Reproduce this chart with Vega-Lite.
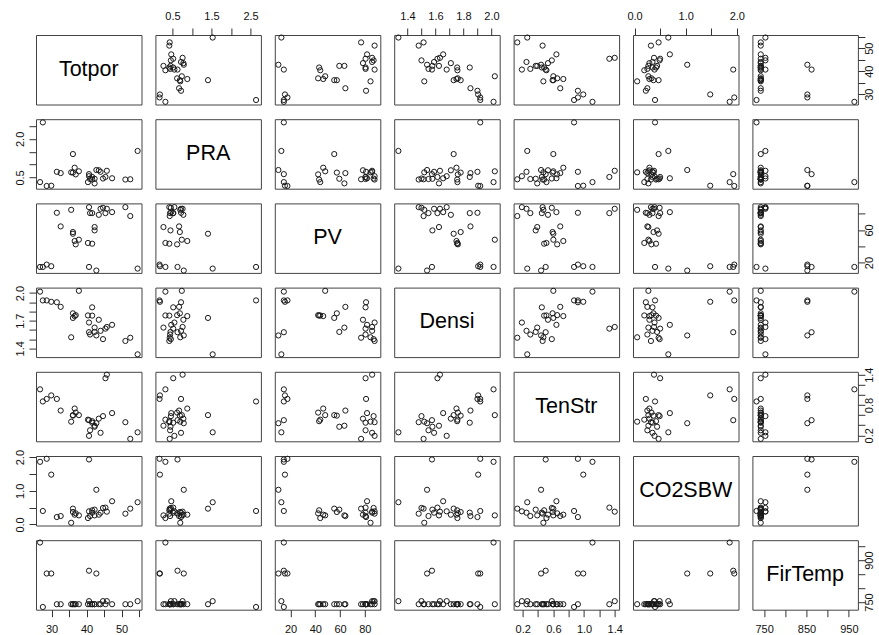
{
"$schema":"https://vega.github.io/schema/vega-lite/v6.json",
"padding":{"left":13,"top":10,"right":5,"bottom":0},
"background":"white",
"datasets":{"d":[
{"Totpor":26.7,"PRA":0.32,"PV":14.6,"Densi":2.015,"TenStr":1.11,"CO2SBW":1.86,"FirTemp":963},
{"Totpor":27.5,"PRA":2.64,"PV":14.6,"Densi":1.92,"TenStr":0.87,"CO2SBW":0.40,"FirTemp":732},
{"Totpor":28.6,"PRA":0.17,"PV":17.5,"Densi":1.92,"TenStr":0.92,"CO2SBW":1.95,"FirTemp":852},
{"Totpor":29.9,"PRA":0.18,"PV":15.5,"Densi":1.905,"TenStr":0.99,"CO2SBW":1.48,"FirTemp":852},
{"Totpor":31.5,"PRA":0.72,"PV":81,"Densi":1.90,"TenStr":0.92,"CO2SBW":0.22,"FirTemp":742},
{"Totpor":32.6,"PRA":0.67,"PV":64.3,"Densi":1.85,"TenStr":0.69,"CO2SBW":0.25,"FirTemp":742},
{"Totpor":35.6,"PRA":0.70,"PV":84.6,"Densi":1.52,"TenStr":0.47,"CO2SBW":0.05,"FirTemp":742},
{"Totpor":36.1,"PRA":0.69,"PV":57.4,"Densi":1.78,"TenStr":0.59,"CO2SBW":0.37,"FirTemp":742},
{"Totpor":36.1,"PRA":1.41,"PV":55.3,"Densi":1.73,"TenStr":0.60,"CO2SBW":0.47,"FirTemp":742},
{"Totpor":36.6,"PRA":0.88,"PV":46.4,"Densi":1.75,"TenStr":0.73,"CO2SBW":0.29,"FirTemp":742},
{"Totpor":36.9,"PRA":0.62,"PV":42.3,"Densi":1.76,"TenStr":0.65,"CO2SBW":0.33,"FirTemp":742},
{"Totpor":37.8,"PRA":0.74,"PV":48,"Densi":2.024,"TenStr":0.60,"CO2SBW":0.27,"FirTemp":742},
{"Totpor":40.4,"PRA":0.32,"PV":44,"Densi":1.757,"TenStr":0.51,"CO2SBW":0.19,"FirTemp":742},
{"Totpor":40.7,"PRA":0.55,"PV":87.9,"Densi":1.68,"TenStr":0.19,"CO2SBW":0.39,"FirTemp":753},
{"Totpor":40.7,"PRA":0.63,"PV":14.6,"Densi":1.575,"TenStr":0.50,"CO2SBW":1.93,"FirTemp":862},
{"Totpor":41.0,"PRA":0.44,"PV":80.6,"Densi":1.55,"TenStr":0.30,"CO2SBW":0.25,"FirTemp":742},
{"Totpor":41.6,"PRA":0.52,"PV":80.6,"Densi":1.845,"TenStr":0.45,"CO2SBW":0.35,"FirTemp":742},
{"Totpor":41.6,"PRA":0.42,"PV":43.1,"Densi":1.755,"TenStr":0.48,"CO2SBW":0.42,"FirTemp":742},
{"Totpor":42.3,"PRA":0.27,"PV":63.5,"Densi":1.625,"TenStr":0.39,"CO2SBW":0.27,"FirTemp":742},
{"Totpor":42.3,"PRA":0.45,"PV":59.4,"Densi":1.578,"TenStr":0.37,"CO2SBW":0.44,"FirTemp":742},
{"Totpor":42.8,"PRA":0.79,"PV":10.2,"Densi":1.54,"TenStr":0.44,"CO2SBW":1.03,"FirTemp":852},
{"Totpor":43.5,"PRA":0.78,"PV":78.5,"Densi":1.71,"TenStr":0.53,"CO2SBW":0.29,"FirTemp":742},
{"Totpor":44.0,"PRA":0.72,"PV":85.9,"Densi":1.59,"TenStr":0.25,"CO2SBW":0.35,"FirTemp":742},
{"Totpor":44.7,"PRA":0.46,"PV":87.1,"Densi":1.50,"TenStr":0.58,"CO2SBW":0.49,"FirTemp":753},
{"Totpor":45.4,"PRA":0.52,"PV":80.6,"Densi":1.614,"TenStr":1.33,"CO2SBW":0.50,"FirTemp":742},
{"Totpor":45.8,"PRA":0.76,"PV":85.9,"Densi":1.632,"TenStr":1.40,"CO2SBW":0.38,"FirTemp":753},
{"Totpor":47.3,"PRA":0.47,"PV":81.8,"Densi":1.655,"TenStr":0.64,"CO2SBW":0.69,"FirTemp":742},
{"Totpor":51.1,"PRA":0.42,"PV":87.9,"Densi":1.48,"TenStr":0.46,"CO2SBW":0.32,"FirTemp":742},
{"Totpor":52.5,"PRA":0.43,"PV":77,"Densi":1.515,"TenStr":0.13,"CO2SBW":0.47,"FirTemp":742},
{"Totpor":54.6,"PRA":1.53,"PV":12.6,"Densi":1.335,"TenStr":0.26,"CO2SBW":0.66,"FirTemp":753}
]},
"columns":7,
"spacing":{"row":14.2,"column":13.4},
"bounds":"flush",
"config":{
"view":{"stroke":"#444","strokeWidth":1},
"point":{"shape":"circle","filled":false,"size":27,"strokeWidth":1,"color":"#1a1a1a","opacity":1},
"text":{"font":"Liberation Sans","fontSize":21.5,"color":"#000"},
"axis":{"domain":false,"grid":false,"tickSize":7,"tickColor":"#333","tickWidth":1,"labelFont":"Liberation Sans","labelFontSize":11,"labelColor":"#111","labelFlush":false,"labelOverlap":false,"labelBound":false}
},
"concat":[
{"width":105.5,"height":69.5,"data":{"values":[{"label":"Totpor"}]},"mark":"text","encoding":{"text":{"field":"label"},"x":{"datum":0.5,"type":"quantitative","scale":{"domain":[0,1]},"axis":null},"y":{"datum":0.5,"type":"quantitative","scale":{"domain":[0,1]},"axis":null}}},
{"width":105.5,"height":69.5,"data":{"name":"d"},"mark":"point","encoding":{"x":{"field":"PRA","type":"quantitative","scale":{"domain":[0.064,2.764],"nice":false,"zero":false},"axis":{"orient":"top","title":null,"values":[0.5,1,1.5,2,2.5],"format":".1f","labelExpr":"datum.value==0.5||datum.value==1.5||datum.value==2.5?datum.label:''","labelAngle":0,"labelAlign":"center","labelBaseline":"alphabetic","labelPadding":8.5}},"y":{"field":"Totpor","type":"quantitative","scale":{"domain":[25.54,55.71],"nice":false,"zero":false},"axis":null}}},
{"width":105.5,"height":69.5,"data":{"name":"d"},"mark":"point","encoding":{"x":{"field":"PV","type":"quantitative","scale":{"domain":[7.3,92.5],"nice":false,"zero":false},"axis":null},"y":{"field":"Totpor","type":"quantitative","scale":{"domain":[25.54,55.71],"nice":false,"zero":false},"axis":null}}},
{"width":105.5,"height":69.5,"data":{"name":"d"},"mark":"point","encoding":{"x":{"field":"Densi","type":"quantitative","scale":{"domain":[1.305,2.059],"nice":false,"zero":false},"axis":{"orient":"top","title":null,"values":[1.4,1.5,1.6,1.7,1.8,1.9,2],"format":".1f","labelExpr":"datum.value==1.4||datum.value==1.6||datum.value==1.8||datum.value==2?datum.label:''","labelAngle":0,"labelAlign":"center","labelBaseline":"alphabetic","labelPadding":8.5}},"y":{"field":"Totpor","type":"quantitative","scale":{"domain":[25.54,55.71],"nice":false,"zero":false},"axis":null}}},
{"width":105.5,"height":69.5,"data":{"name":"d"},"mark":"point","encoding":{"x":{"field":"TenStr","type":"quantitative","scale":{"domain":[0.082,1.457],"nice":false,"zero":false},"axis":null},"y":{"field":"Totpor","type":"quantitative","scale":{"domain":[25.54,55.71],"nice":false,"zero":false},"axis":null}}},
{"width":105.5,"height":69.5,"data":{"name":"d"},"mark":"point","encoding":{"x":{"field":"CO2SBW","type":"quantitative","scale":{"domain":[-0.031,2.033],"nice":false,"zero":false},"axis":{"orient":"top","title":null,"values":[0,0.5,1,1.5,2],"format":".1f","labelExpr":"datum.value==0||datum.value==1||datum.value==2?datum.label:''","labelAngle":0,"labelAlign":"center","labelBaseline":"alphabetic","labelPadding":8.5}},"y":{"field":"Totpor","type":"quantitative","scale":{"domain":[25.54,55.71],"nice":false,"zero":false},"axis":null}}},
{"width":105.5,"height":69.5,"data":{"name":"d"},"mark":"point","encoding":{"x":{"field":"FirTemp","type":"quantitative","scale":{"domain":[722.3,971.3],"nice":false,"zero":false},"axis":null},"y":{"field":"Totpor","type":"quantitative","scale":{"domain":[25.54,55.71],"nice":false,"zero":false},"axis":{"orient":"right","title":null,"values":[30,35,40,45,50,55],"format":"d","labelExpr":"datum.value%10==0?datum.label:''","labelAngle":270,"labelAlign":"center","labelBaseline":"alphabetic","labelPadding":8}}}},

{"width":105.5,"height":69.5,"data":{"name":"d"},"mark":"point","encoding":{"x":{"field":"Totpor","type":"quantitative","scale":{"domain":[25.54,55.71],"nice":false,"zero":false},"axis":null},"y":{"field":"PRA","type":"quantitative","scale":{"domain":[0.064,2.764],"nice":false,"zero":false},"axis":{"orient":"left","title":null,"values":[0.5,1,1.5,2,2.5],"format":".1f","labelExpr":"datum.value==0.5||datum.value==2?datum.label:''","labelAngle":270,"labelAlign":"center","labelBaseline":"alphabetic","labelPadding":5.5}}}},
{"width":105.5,"height":69.5,"data":{"values":[{"label":"PRA"}]},"mark":"text","encoding":{"text":{"field":"label"},"x":{"datum":0.5,"type":"quantitative","scale":{"domain":[0,1]},"axis":null},"y":{"datum":0.5,"type":"quantitative","scale":{"domain":[0,1]},"axis":null}}},
{"width":105.5,"height":69.5,"data":{"name":"d"},"mark":"point","encoding":{"x":{"field":"PV","type":"quantitative","scale":{"domain":[7.3,92.5],"nice":false,"zero":false},"axis":null},"y":{"field":"PRA","type":"quantitative","scale":{"domain":[0.064,2.764],"nice":false,"zero":false},"axis":null}}},
{"width":105.5,"height":69.5,"data":{"name":"d"},"mark":"point","encoding":{"x":{"field":"Densi","type":"quantitative","scale":{"domain":[1.305,2.059],"nice":false,"zero":false},"axis":null},"y":{"field":"PRA","type":"quantitative","scale":{"domain":[0.064,2.764],"nice":false,"zero":false},"axis":null}}},
{"width":105.5,"height":69.5,"data":{"name":"d"},"mark":"point","encoding":{"x":{"field":"TenStr","type":"quantitative","scale":{"domain":[0.082,1.457],"nice":false,"zero":false},"axis":null},"y":{"field":"PRA","type":"quantitative","scale":{"domain":[0.064,2.764],"nice":false,"zero":false},"axis":null}}},
{"width":105.5,"height":69.5,"data":{"name":"d"},"mark":"point","encoding":{"x":{"field":"CO2SBW","type":"quantitative","scale":{"domain":[-0.031,2.033],"nice":false,"zero":false},"axis":null},"y":{"field":"PRA","type":"quantitative","scale":{"domain":[0.064,2.764],"nice":false,"zero":false},"axis":null}}},
{"width":105.5,"height":69.5,"data":{"name":"d"},"mark":"point","encoding":{"x":{"field":"FirTemp","type":"quantitative","scale":{"domain":[722.3,971.3],"nice":false,"zero":false},"axis":null},"y":{"field":"PRA","type":"quantitative","scale":{"domain":[0.064,2.764],"nice":false,"zero":false},"axis":null}}},

{"width":105.5,"height":69.5,"data":{"name":"d"},"mark":"point","encoding":{"x":{"field":"Totpor","type":"quantitative","scale":{"domain":[25.54,55.71],"nice":false,"zero":false},"axis":null},"y":{"field":"PV","type":"quantitative","scale":{"domain":[7.3,92.5],"nice":false,"zero":false},"axis":null}}},
{"width":105.5,"height":69.5,"data":{"name":"d"},"mark":"point","encoding":{"x":{"field":"PRA","type":"quantitative","scale":{"domain":[0.064,2.764],"nice":false,"zero":false},"axis":null},"y":{"field":"PV","type":"quantitative","scale":{"domain":[7.3,92.5],"nice":false,"zero":false},"axis":null}}},
{"width":105.5,"height":69.5,"data":{"values":[{"label":"PV"}]},"mark":"text","encoding":{"text":{"field":"label"},"x":{"datum":0.5,"type":"quantitative","scale":{"domain":[0,1]},"axis":null},"y":{"datum":0.5,"type":"quantitative","scale":{"domain":[0,1]},"axis":null}}},
{"width":105.5,"height":69.5,"data":{"name":"d"},"mark":"point","encoding":{"x":{"field":"Densi","type":"quantitative","scale":{"domain":[1.305,2.059],"nice":false,"zero":false},"axis":null},"y":{"field":"PV","type":"quantitative","scale":{"domain":[7.3,92.5],"nice":false,"zero":false},"axis":null}}},
{"width":105.5,"height":69.5,"data":{"name":"d"},"mark":"point","encoding":{"x":{"field":"TenStr","type":"quantitative","scale":{"domain":[0.082,1.457],"nice":false,"zero":false},"axis":null},"y":{"field":"PV","type":"quantitative","scale":{"domain":[7.3,92.5],"nice":false,"zero":false},"axis":null}}},
{"width":105.5,"height":69.5,"data":{"name":"d"},"mark":"point","encoding":{"x":{"field":"CO2SBW","type":"quantitative","scale":{"domain":[-0.031,2.033],"nice":false,"zero":false},"axis":null},"y":{"field":"PV","type":"quantitative","scale":{"domain":[7.3,92.5],"nice":false,"zero":false},"axis":null}}},
{"width":105.5,"height":69.5,"data":{"name":"d"},"mark":"point","encoding":{"x":{"field":"FirTemp","type":"quantitative","scale":{"domain":[722.3,971.3],"nice":false,"zero":false},"axis":null},"y":{"field":"PV","type":"quantitative","scale":{"domain":[7.3,92.5],"nice":false,"zero":false},"axis":{"orient":"right","title":null,"values":[20,40,60,80],"format":"d","labelExpr":"datum.value==20||datum.value==60?datum.label:''","labelAngle":270,"labelAlign":"center","labelBaseline":"alphabetic","labelPadding":8}}}},

{"width":105.5,"height":69.5,"data":{"name":"d"},"mark":"point","encoding":{"x":{"field":"Totpor","type":"quantitative","scale":{"domain":[25.54,55.71],"nice":false,"zero":false},"axis":null},"y":{"field":"Densi","type":"quantitative","scale":{"domain":[1.305,2.059],"nice":false,"zero":false},"axis":{"orient":"left","title":null,"values":[1.4,1.5,1.6,1.7,1.8,1.9,2],"format":".1f","labelExpr":"datum.value==1.4||datum.value==1.7||datum.value==2?datum.label:''","labelAngle":270,"labelAlign":"center","labelBaseline":"alphabetic","labelPadding":5.5}}}},
{"width":105.5,"height":69.5,"data":{"name":"d"},"mark":"point","encoding":{"x":{"field":"PRA","type":"quantitative","scale":{"domain":[0.064,2.764],"nice":false,"zero":false},"axis":null},"y":{"field":"Densi","type":"quantitative","scale":{"domain":[1.305,2.059],"nice":false,"zero":false},"axis":null}}},
{"width":105.5,"height":69.5,"data":{"name":"d"},"mark":"point","encoding":{"x":{"field":"PV","type":"quantitative","scale":{"domain":[7.3,92.5],"nice":false,"zero":false},"axis":null},"y":{"field":"Densi","type":"quantitative","scale":{"domain":[1.305,2.059],"nice":false,"zero":false},"axis":null}}},
{"width":105.5,"height":69.5,"data":{"values":[{"label":"Densi"}]},"mark":"text","encoding":{"text":{"field":"label"},"x":{"datum":0.5,"type":"quantitative","scale":{"domain":[0,1]},"axis":null},"y":{"datum":0.5,"type":"quantitative","scale":{"domain":[0,1]},"axis":null}}},
{"width":105.5,"height":69.5,"data":{"name":"d"},"mark":"point","encoding":{"x":{"field":"TenStr","type":"quantitative","scale":{"domain":[0.082,1.457],"nice":false,"zero":false},"axis":null},"y":{"field":"Densi","type":"quantitative","scale":{"domain":[1.305,2.059],"nice":false,"zero":false},"axis":null}}},
{"width":105.5,"height":69.5,"data":{"name":"d"},"mark":"point","encoding":{"x":{"field":"CO2SBW","type":"quantitative","scale":{"domain":[-0.031,2.033],"nice":false,"zero":false},"axis":null},"y":{"field":"Densi","type":"quantitative","scale":{"domain":[1.305,2.059],"nice":false,"zero":false},"axis":null}}},
{"width":105.5,"height":69.5,"data":{"name":"d"},"mark":"point","encoding":{"x":{"field":"FirTemp","type":"quantitative","scale":{"domain":[722.3,971.3],"nice":false,"zero":false},"axis":null},"y":{"field":"Densi","type":"quantitative","scale":{"domain":[1.305,2.059],"nice":false,"zero":false},"axis":null}}},

{"width":105.5,"height":69.5,"data":{"name":"d"},"mark":"point","encoding":{"x":{"field":"Totpor","type":"quantitative","scale":{"domain":[25.54,55.71],"nice":false,"zero":false},"axis":null},"y":{"field":"TenStr","type":"quantitative","scale":{"domain":[0.082,1.457],"nice":false,"zero":false},"axis":null}}},
{"width":105.5,"height":69.5,"data":{"name":"d"},"mark":"point","encoding":{"x":{"field":"PRA","type":"quantitative","scale":{"domain":[0.064,2.764],"nice":false,"zero":false},"axis":null},"y":{"field":"TenStr","type":"quantitative","scale":{"domain":[0.082,1.457],"nice":false,"zero":false},"axis":null}}},
{"width":105.5,"height":69.5,"data":{"name":"d"},"mark":"point","encoding":{"x":{"field":"PV","type":"quantitative","scale":{"domain":[7.3,92.5],"nice":false,"zero":false},"axis":null},"y":{"field":"TenStr","type":"quantitative","scale":{"domain":[0.082,1.457],"nice":false,"zero":false},"axis":null}}},
{"width":105.5,"height":69.5,"data":{"name":"d"},"mark":"point","encoding":{"x":{"field":"Densi","type":"quantitative","scale":{"domain":[1.305,2.059],"nice":false,"zero":false},"axis":null},"y":{"field":"TenStr","type":"quantitative","scale":{"domain":[0.082,1.457],"nice":false,"zero":false},"axis":null}}},
{"width":105.5,"height":69.5,"data":{"values":[{"label":"TenStr"}]},"mark":"text","encoding":{"text":{"field":"label"},"x":{"datum":0.5,"type":"quantitative","scale":{"domain":[0,1]},"axis":null},"y":{"datum":0.5,"type":"quantitative","scale":{"domain":[0,1]},"axis":null}}},
{"width":105.5,"height":69.5,"data":{"name":"d"},"mark":"point","encoding":{"x":{"field":"CO2SBW","type":"quantitative","scale":{"domain":[-0.031,2.033],"nice":false,"zero":false},"axis":null},"y":{"field":"TenStr","type":"quantitative","scale":{"domain":[0.082,1.457],"nice":false,"zero":false},"axis":null}}},
{"width":105.5,"height":69.5,"data":{"name":"d"},"mark":"point","encoding":{"x":{"field":"FirTemp","type":"quantitative","scale":{"domain":[722.3,971.3],"nice":false,"zero":false},"axis":null},"y":{"field":"TenStr","type":"quantitative","scale":{"domain":[0.082,1.457],"nice":false,"zero":false},"axis":{"orient":"right","title":null,"values":[0.2,0.4,0.6,0.8,1,1.2,1.4],"format":".1f","labelExpr":"datum.value==0.2||datum.value==0.8||datum.value==1.4?datum.label:''","labelAngle":270,"labelAlign":"center","labelBaseline":"alphabetic","labelPadding":8}}}},

{"width":105.5,"height":69.5,"data":{"name":"d"},"mark":"point","encoding":{"x":{"field":"Totpor","type":"quantitative","scale":{"domain":[25.54,55.71],"nice":false,"zero":false},"axis":null},"y":{"field":"CO2SBW","type":"quantitative","scale":{"domain":[-0.031,2.033],"nice":false,"zero":false},"axis":{"orient":"left","title":null,"values":[0,0.5,1,1.5,2],"format":".1f","labelExpr":"datum.value==0||datum.value==1||datum.value==2?datum.label:''","labelAngle":270,"labelAlign":"center","labelBaseline":"alphabetic","labelPadding":5.5}}}},
{"width":105.5,"height":69.5,"data":{"name":"d"},"mark":"point","encoding":{"x":{"field":"PRA","type":"quantitative","scale":{"domain":[0.064,2.764],"nice":false,"zero":false},"axis":null},"y":{"field":"CO2SBW","type":"quantitative","scale":{"domain":[-0.031,2.033],"nice":false,"zero":false},"axis":null}}},
{"width":105.5,"height":69.5,"data":{"name":"d"},"mark":"point","encoding":{"x":{"field":"PV","type":"quantitative","scale":{"domain":[7.3,92.5],"nice":false,"zero":false},"axis":null},"y":{"field":"CO2SBW","type":"quantitative","scale":{"domain":[-0.031,2.033],"nice":false,"zero":false},"axis":null}}},
{"width":105.5,"height":69.5,"data":{"name":"d"},"mark":"point","encoding":{"x":{"field":"Densi","type":"quantitative","scale":{"domain":[1.305,2.059],"nice":false,"zero":false},"axis":null},"y":{"field":"CO2SBW","type":"quantitative","scale":{"domain":[-0.031,2.033],"nice":false,"zero":false},"axis":null}}},
{"width":105.5,"height":69.5,"data":{"name":"d"},"mark":"point","encoding":{"x":{"field":"TenStr","type":"quantitative","scale":{"domain":[0.082,1.457],"nice":false,"zero":false},"axis":null},"y":{"field":"CO2SBW","type":"quantitative","scale":{"domain":[-0.031,2.033],"nice":false,"zero":false},"axis":null}}},
{"width":105.5,"height":69.5,"data":{"values":[{"label":"CO2SBW"}]},"mark":"text","encoding":{"text":{"field":"label"},"x":{"datum":0.5,"type":"quantitative","scale":{"domain":[0,1]},"axis":null},"y":{"datum":0.5,"type":"quantitative","scale":{"domain":[0,1]},"axis":null}}},
{"width":105.5,"height":69.5,"data":{"name":"d"},"mark":"point","encoding":{"x":{"field":"FirTemp","type":"quantitative","scale":{"domain":[722.3,971.3],"nice":false,"zero":false},"axis":null},"y":{"field":"CO2SBW","type":"quantitative","scale":{"domain":[-0.031,2.033],"nice":false,"zero":false},"axis":null}}},

{"width":105.5,"height":69.5,"data":{"name":"d"},"mark":"point","encoding":{"x":{"field":"Totpor","type":"quantitative","scale":{"domain":[25.54,55.71],"nice":false,"zero":false},"axis":{"orient":"bottom","title":null,"values":[30,35,40,45,50,55],"format":"d","labelExpr":"datum.value%10==0?datum.label:''","labelAngle":0,"labelAlign":"center","labelBaseline":"top","labelPadding":7}},"y":{"field":"FirTemp","type":"quantitative","scale":{"domain":[722.3,971.3],"nice":false,"zero":false},"axis":null}}},
{"width":105.5,"height":69.5,"data":{"name":"d"},"mark":"point","encoding":{"x":{"field":"PRA","type":"quantitative","scale":{"domain":[0.064,2.764],"nice":false,"zero":false},"axis":null},"y":{"field":"FirTemp","type":"quantitative","scale":{"domain":[722.3,971.3],"nice":false,"zero":false},"axis":null}}},
{"width":105.5,"height":69.5,"data":{"name":"d"},"mark":"point","encoding":{"x":{"field":"PV","type":"quantitative","scale":{"domain":[7.3,92.5],"nice":false,"zero":false},"axis":{"orient":"bottom","title":null,"values":[20,40,60,80],"format":"d","labelAngle":0,"labelAlign":"center","labelBaseline":"top","labelPadding":7}},"y":{"field":"FirTemp","type":"quantitative","scale":{"domain":[722.3,971.3],"nice":false,"zero":false},"axis":null}}},
{"width":105.5,"height":69.5,"data":{"name":"d"},"mark":"point","encoding":{"x":{"field":"Densi","type":"quantitative","scale":{"domain":[1.305,2.059],"nice":false,"zero":false},"axis":null},"y":{"field":"FirTemp","type":"quantitative","scale":{"domain":[722.3,971.3],"nice":false,"zero":false},"axis":null}}},
{"width":105.5,"height":69.5,"data":{"name":"d"},"mark":"point","encoding":{"x":{"field":"TenStr","type":"quantitative","scale":{"domain":[0.082,1.457],"nice":false,"zero":false},"axis":{"orient":"bottom","title":null,"values":[0.2,0.4,0.6,0.8,1,1.2,1.4],"format":".1f","labelExpr":"datum.value==0.2||datum.value==0.6||datum.value==1||datum.value==1.4?datum.label:''","labelAngle":0,"labelAlign":"center","labelBaseline":"top","labelPadding":7}},"y":{"field":"FirTemp","type":"quantitative","scale":{"domain":[722.3,971.3],"nice":false,"zero":false},"axis":null}}},
{"width":105.5,"height":69.5,"data":{"name":"d"},"mark":"point","encoding":{"x":{"field":"CO2SBW","type":"quantitative","scale":{"domain":[-0.031,2.033],"nice":false,"zero":false},"axis":null},"y":{"field":"FirTemp","type":"quantitative","scale":{"domain":[722.3,971.3],"nice":false,"zero":false},"axis":null}}},
{"width":105.5,"height":69.5,"data":{"values":[{"label":"FirTemp"}]},"mark":"text","encoding":{"text":{"field":"label"},"x":{"datum":846.8,"type":"quantitative","scale":{"domain":[722.3,971.3],"nice":false,"zero":false},"axis":{"orient":"bottom","title":null,"values":[750,800,850,900,950],"format":"d","labelExpr":"datum.value%100==50?datum.label:''","labelAngle":0,"labelAlign":"center","labelBaseline":"top","labelPadding":7}},"y":{"datum":846.8,"type":"quantitative","scale":{"domain":[722.3,971.3],"nice":false,"zero":false},"axis":{"orient":"right","title":null,"values":[750,800,850,900,950],"format":"d","labelExpr":"datum.value==750||datum.value==900?datum.label:''","labelAngle":270,"labelAlign":"center","labelBaseline":"alphabetic","labelPadding":8}}}}
]
}
